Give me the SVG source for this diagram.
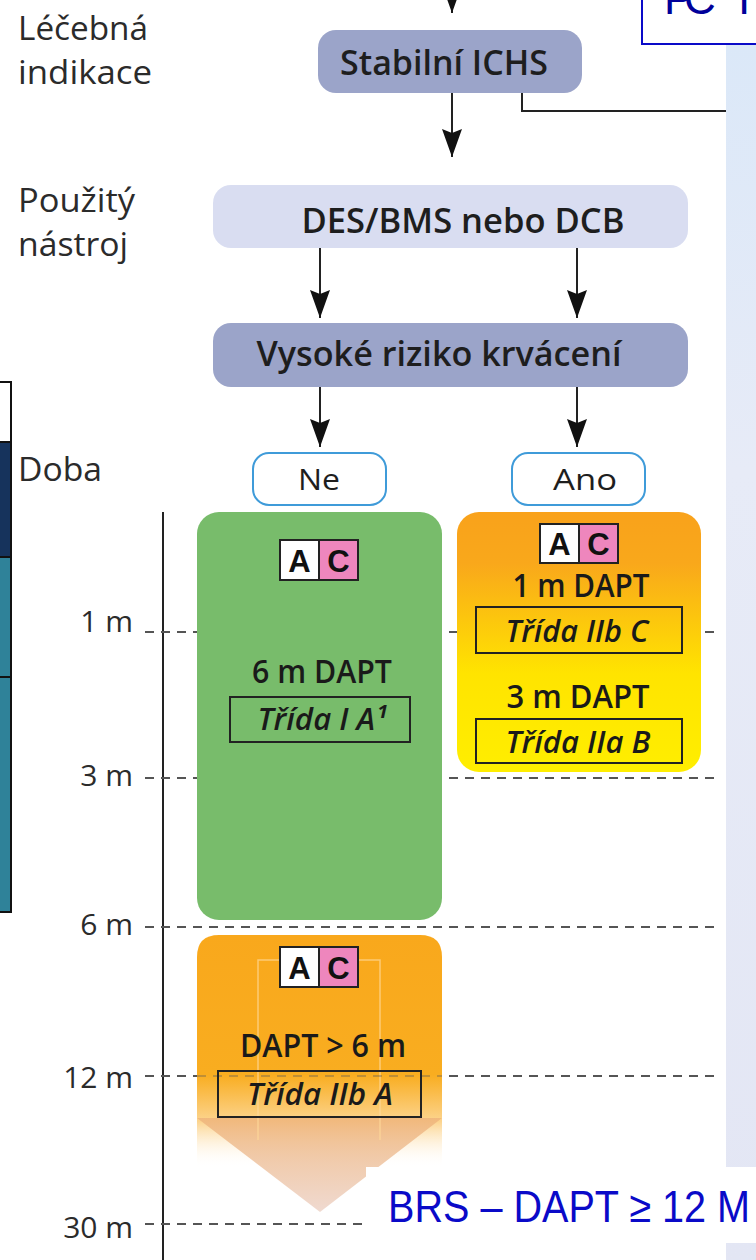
<svg xmlns="http://www.w3.org/2000/svg" width="756" height="1260" viewBox="0 0 756 1260">
<defs>
<style>
.lbl{font-family:"Open Sans","Noto Sans","Liberation Sans",sans-serif;font-size:33px;fill:#2b2b2b}
.ax{font-family:"Open Sans","Noto Sans","Liberation Sans",sans-serif;font-size:30px;fill:#2b2b2b;text-anchor:end}
.nt{font-family:"Open Sans","Noto Sans","Liberation Sans",sans-serif;font-weight:600;font-size:34px;fill:#1e1e1e;text-anchor:middle}
.yn{font-family:"Open Sans","Noto Sans","Liberation Sans",sans-serif;font-size:30px;fill:#1e1e1e;text-anchor:middle}
.dp{font-family:"Open Sans","Noto Sans","Liberation Sans",sans-serif;font-weight:600;font-size:33px;fill:#1a1a1a;text-anchor:middle}
.cls{font-family:"Open Sans","Noto Sans","Liberation Sans",sans-serif;font-style:italic;font-weight:600;font-size:30px;fill:#1a1a1a;text-anchor:middle}
.clsbox{fill:none;stroke:#222;stroke-width:2}
.badge{font-family:"Liberation Sans","Open Sans",sans-serif;font-weight:bold;font-size:31px;fill:#111;text-anchor:middle}
.cellA{fill:#fff;stroke:#222;stroke-width:2}
.cellC{fill:#ee86bd;stroke:#222;stroke-width:2}
.dash{stroke:#555;stroke-width:2;stroke-dasharray:9 7;fill:none}
.conn{stroke:#222;stroke-width:2;fill:none}
.dark{fill:#9ba4c9}
.light{fill:#d9ddf1}
.yesno{fill:#fff;stroke:#3f9bd9;stroke-width:2}
</style>
<marker id="ah" viewBox="0 0 28 20" refX="28" refY="10" markerWidth="28" markerHeight="20" markerUnits="userSpaceOnUse" orient="auto">
<path d="M0,0 L28,10 L0,20 L4,10 z" fill="#111"/>
</marker>
<linearGradient id="gYel" x1="0" y1="0" x2="0" y2="1">
<stop offset="0" stop-color="#f9a21b"/>
<stop offset="0.2" stop-color="#f9a81b"/>
<stop offset="0.62" stop-color="#ffe400"/>
<stop offset="1" stop-color="#ffee00"/>
</linearGradient>
<linearGradient id="gOr" x1="0" y1="935" x2="0" y2="1168" gradientUnits="userSpaceOnUse">
<stop offset="0" stop-color="#f9a81c"/>
<stop offset="0.6" stop-color="#f9ad20"/>
<stop offset="0.8" stop-color="#fcd48e"/>
<stop offset="1" stop-color="#fff" stop-opacity="0"/>
</linearGradient>
<linearGradient id="gTri" x1="0" y1="1118" x2="0" y2="1212" gradientUnits="userSpaceOnUse">
<stop offset="0" stop-color="#efb47a"/>
<stop offset="1" stop-color="#edd3c8"/>
</linearGradient>
<linearGradient id="gPanel" x1="0" y1="0" x2="0" y2="1">
<stop offset="0" stop-color="#dbe8f8"/>
<stop offset="0.35" stop-color="#e7ebf7"/>
<stop offset="1" stop-color="#e3e6f4"/>
</linearGradient>
</defs>
<rect width="756" height="1260" fill="#fff"/>

<!-- right background panel -->
<rect x="726" y="45" width="30" height="1215" fill="url(#gPanel)"/>

<!-- title box top-right -->
<g id="title">
<rect x="642" y="-4" width="120" height="48" fill="#fff" stroke="#0a0ac8" stroke-width="2"/>
<text x="664 684 738" y="14" font-family="Liberation Sans,Arial,sans-serif" font-size="44" fill="#00009a">PCI</text>
</g>

<!-- left table strip -->
<g id="table">
<rect x="-2" y="382" width="13" height="60" fill="#fff" stroke="#111" stroke-width="2"/>
<rect x="-2" y="442" width="13" height="115" fill="#16335c" stroke="#111" stroke-width="2"/>
<rect x="-2" y="557" width="13" height="120" fill="#2f8299" stroke="#111" stroke-width="2"/>
<rect x="-2" y="677" width="13" height="235" fill="#2f8299" stroke="#111" stroke-width="2"/>
</g>

<!-- row labels -->
<g id="labels">
<text class="lbl" x="18" y="40" textLength="130" lengthAdjust="spacingAndGlyphs">Léčebná</text>
<text class="lbl" x="18" y="84" textLength="134" lengthAdjust="spacingAndGlyphs">indikace</text>
<text class="lbl" x="18" y="212" textLength="117" lengthAdjust="spacingAndGlyphs">Použitý</text>
<text class="lbl" x="18" y="256" textLength="110" lengthAdjust="spacingAndGlyphs">nástroj</text>
<text class="lbl" x="18" y="481" textLength="84" lengthAdjust="spacingAndGlyphs">Doba</text>
</g>

<!-- time axis -->
<g id="axis">
<line x1="163" y1="512" x2="163" y2="1260" stroke="#222" stroke-width="2"/>
<text class="ax" x="133" y="632">1 m</text>
<text class="ax" x="133" y="786">3 m</text>
<text class="ax" x="133" y="935">6 m</text>
<text class="ax" x="133" y="1088">12 m</text>
<text class="ax" x="133" y="1238">30 m</text>
<line class="dash" x1="145" y1="632" x2="720" y2="632"/>
<line class="dash" x1="145" y1="778" x2="720" y2="778"/>
<line class="dash" x1="145" y1="927" x2="720" y2="927"/>
<line class="dash" x1="145" y1="1076" x2="720" y2="1076"/>
<line class="dash" x1="145" y1="1224" x2="400" y2="1224"/>
</g>

<!-- connectors -->
<g id="connectors">
<line class="conn" x1="452" y1="-20" x2="452" y2="13" marker-end="url(#ah)"/>
<line class="conn" x1="452" y1="93" x2="452" y2="157" marker-end="url(#ah)"/>
<polyline class="conn" points="522,93 522,111 726,111"/>
<line class="conn" x1="320" y1="248" x2="320" y2="318" marker-end="url(#ah)"/>
<line class="conn" x1="577" y1="248" x2="577" y2="318" marker-end="url(#ah)"/>
<line class="conn" x1="320" y1="387" x2="320" y2="447" marker-end="url(#ah)"/>
<line class="conn" x1="577" y1="387" x2="577" y2="447" marker-end="url(#ah)"/>
</g>

<!-- flow nodes -->
<g id="n-stabilni">
<rect class="dark" x="318" y="30" width="264" height="63" rx="18"/>
<text class="nt" x="444" y="75" textLength="208" lengthAdjust="spacingAndGlyphs">Stabilní ICHS</text>
</g>
<g id="n-nastroj">
<rect class="light" x="213" y="185" width="475" height="63" rx="18"/>
<text class="nt" x="463" y="233" textLength="323" lengthAdjust="spacingAndGlyphs">DES/BMS nebo DCB</text>
</g>
<g id="n-riziko">
<rect class="dark" x="213" y="323" width="475" height="64" rx="18"/>
<text class="nt" x="439" y="366" textLength="365" lengthAdjust="spacingAndGlyphs">Vysoké riziko krvácení</text>
</g>
<g id="n-ne">
<rect class="yesno" x="253" y="453" width="133" height="52" rx="16"/>
<text class="yn" x="319" y="490" textLength="42" lengthAdjust="spacingAndGlyphs">Ne</text>
</g>
<g id="n-ano">
<rect class="yesno" x="512" y="453" width="133" height="52" rx="16"/>
<text class="yn" x="585" y="490" textLength="64" lengthAdjust="spacingAndGlyphs">Ano</text>
</g>

<!-- green box: 6 m DAPT -->
<g id="n-6m">
<rect x="197" y="512" width="245" height="408" rx="22" fill="#78bc6b"/>
<rect class="cellA" x="280" y="540" width="39" height="40"/>
<rect class="cellC" x="319" y="540" width="39" height="40"/>
<text class="badge" x="299.5" y="572">A</text>
<text class="badge" x="338.5" y="572">C</text>
<text class="dp" x="322" y="683" textLength="140" lengthAdjust="spacingAndGlyphs">6 m DAPT</text>
<rect class="clsbox" x="230" y="697" width="180" height="45"/>
<text class="cls" x="322" y="730" textLength="129" lengthAdjust="spacingAndGlyphs">Třída I A¹</text>
</g>

<!-- yellow box: 1 m / 3 m DAPT -->
<g id="n-1m3m">
<rect x="457" y="512" width="244" height="260" rx="22" fill="url(#gYel)"/>
<rect class="cellA" x="540" y="524" width="39" height="39"/>
<rect class="cellC" x="579" y="524" width="39" height="39"/>
<text class="badge" x="559.5" y="555">A</text>
<text class="badge" x="598.5" y="555">C</text>
<text class="dp" x="581" y="597" textLength="137" lengthAdjust="spacingAndGlyphs">1 m DAPT</text>
<rect class="clsbox" x="476" y="607" width="206" height="46"/>
<text class="cls" x="577" y="642" textLength="143" lengthAdjust="spacingAndGlyphs">Třída IIb C</text>
<text class="dp" x="578" y="708" textLength="143" lengthAdjust="spacingAndGlyphs">3 m DAPT</text>
<rect class="clsbox" x="476" y="719" width="206" height="44"/>
<text class="cls" x="578" y="753" textLength="145" lengthAdjust="spacingAndGlyphs">Třída IIa B</text>
</g>

<!-- orange arrow: DAPT > 6 m -->
<g id="n-over6m">
<path d="M197,1168 V957 Q197,935 219,935 H420 Q442,935 442,957 V1168 Z" fill="url(#gOr)"/>
<polygon points="197,1118 442,1118 320,1212" fill="url(#gTri)" opacity="0.85"/>
<path d="M258,1140 V960 H380 V1140" fill="none" stroke="#ffd89a" stroke-width="1.5" opacity="0.7"/>
<line class="dash" x1="197" y1="1076" x2="442" y2="1076" opacity="0.35"/>
<rect class="cellA" x="280" y="947" width="39" height="40"/>
<rect class="cellC" x="319" y="947" width="39" height="40"/>
<text class="badge" x="299.5" y="979">A</text>
<text class="badge" x="338.5" y="979">C</text>
<text class="dp" x="323" y="1057" textLength="166" lengthAdjust="spacingAndGlyphs">DAPT &gt; 6 m</text>
<rect class="clsbox" x="218" y="1071" width="203" height="46"/>
<text class="cls" x="320" y="1105" textLength="146" lengthAdjust="spacingAndGlyphs">Třída IIb A</text>
</g>

<!-- BRS note -->
<g id="note">
<rect x="366" y="1167" width="390" height="76" fill="#fff"/>
<text x="388" y="1222" font-family="Liberation Sans,Arial,sans-serif" font-size="44" fill="#0a0ac8" textLength="362" lengthAdjust="spacingAndGlyphs">BRS – DAPT ≥ 12 M</text>
</g>
</svg>
